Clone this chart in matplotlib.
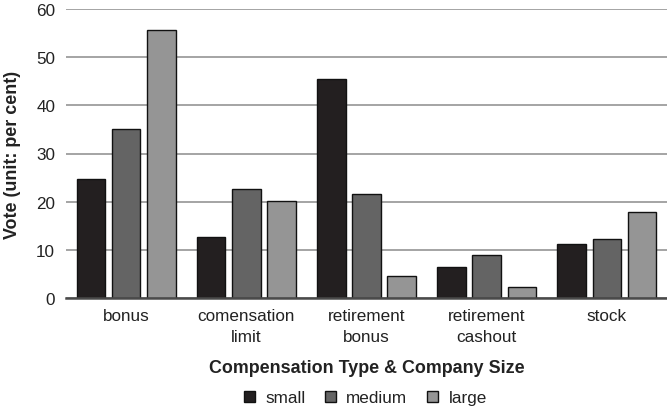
import matplotlib
matplotlib.use("Agg")
import matplotlib.pyplot as plt
import numpy as np

plt.rcParams['font.family'] = ['Liberation Sans', 'DejaVu Sans']

categories = ["bonus", "comensation\nlimit", "retirement\nbonus", "retirement\ncashout", "stock"]
series_names = ["small", "medium", "large"]
small = [24.8, 12.7, 45.5, 6.4, 11.2]
medium = [35.0, 22.7, 21.5, 9.0, 12.3]
large = [55.7, 20.1, 4.5, 2.3, 17.9]
colors = ["#231f20", "#646464", "#959595"]
yticks = [0, 10, 20, 30, 40, 50, 60]

FS = 12.3
FSB = 12.9
TXT = "#222222"

fig = plt.figure(figsize=(6.67, 4.10), dpi=100)
ax = fig.add_axes([66/667, 1 - 299/410, 1 - 66/667, (299 - 10)/410])

x = np.arange(len(categories))
width = 0.238
pitch = 0.293
for i, (vals, name, c) in enumerate(zip([small, medium, large], series_names, colors)):
    ax.bar(x + (i - 1) * pitch, vals, width, color=c, edgecolor="#111111",
           linewidth=1.0, label=name, zorder=3)

ax.set_xlim(-0.5, len(categories) - 0.5)
ax.set_ylim(0, 60)
ax.set_yticks(yticks)
ax.set_xticks(x)
ax.set_xticklabels(categories, fontsize=FS, color=TXT, linespacing=1.5)
ax.tick_params(axis="both", length=0, labelsize=FS, colors=TXT)
ax.tick_params(axis="y", pad=7.8)
ax.tick_params(axis="x", pad=7)
ax.yaxis.grid(True, color="#a4a4a4", linewidth=1.4, zorder=0)
ax.set_axisbelow(True)
for s in ["top", "right", "left"]:
    ax.spines[s].set_visible(False)
ax.spines["bottom"].set_color("#4a4a4a")
ax.spines["bottom"].set_linewidth(1.8)
ax.spines["bottom"].set_zorder(4)

ax.set_ylabel("Vote (unit: per cent)", fontsize=FSB, fontweight="bold", color=TXT)
ax.yaxis.set_label_coords((20.8 - 66) / 601, 0.5)
ax.set_xlabel("Compensation Type & Company Size", fontsize=FSB, fontweight="bold", color=TXT)
ax.xaxis.set_label_coords(0.5, -(359.6 - 299) / 289)

leg = fig.legend(loc="center", bbox_to_anchor=(365.5/667, 1 - 399/410), ncol=3, frameon=False,
                 fontsize=FS, handlelength=0.64, handleheight=0.64, handletextpad=0.59,
                 columnspacing=1.17, borderpad=0.2)
for t in leg.get_texts():
    t.set_color(TXT)

fig.savefig("out.png", dpi=100)
